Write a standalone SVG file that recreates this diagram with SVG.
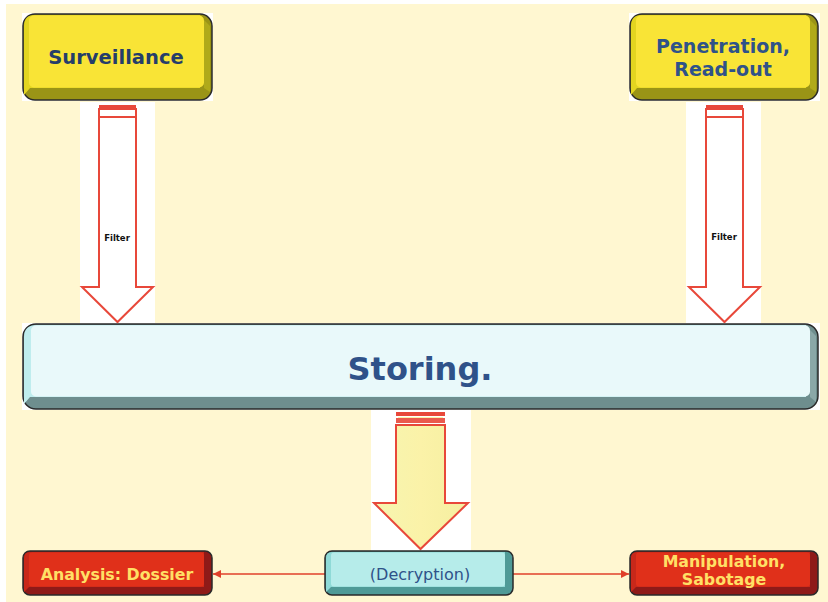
<svg xmlns="http://www.w3.org/2000/svg" width="828" height="602" viewBox="0 0 828 602">
<defs>
<style>
.t{font-family:"DejaVu Sans","Verdana",sans-serif;font-weight:bold;text-anchor:middle}
.edge{stroke:#E0402A;stroke-width:1.5;fill:none}
.arr{stroke:#E8483A;stroke-width:2;stroke-linejoin:miter}
.btn{stroke:#2a2a2a;stroke-width:1.5}
</style>
<marker id="ah" viewBox="0 0 10 10" refX="10" refY="5" markerWidth="8" markerHeight="8" markerUnits="userSpaceOnUse" orient="auto">
<path d="M0,0 L10,5 L0,10 z" fill="#E0402A"/>
</marker>
<linearGradient id="midg" x1="0" y1="0" x2="1" y2="0">
<stop offset="0" stop-color="#F6F5B0"/>
<stop offset="0.5" stop-color="#FBF2A8"/>
<stop offset="1" stop-color="#F5EFA0"/>
</linearGradient>
</defs>
<rect x="0" y="0" width="828" height="602" fill="#FFFFFF"/>
<rect x="6" y="4" width="822" height="598" fill="#FFF7D1"/>

<g id="connectors">
<line class="edge" x1="325" y1="574" x2="213" y2="574" marker-end="url(#ah)"/>
<line class="edge" x1="513" y1="574" x2="629" y2="574" marker-end="url(#ah)"/>
</g>

<g id="arrow-left">
<rect x="80" y="102" width="75" height="222" fill="#FFFFFF"/>
<rect x="99" y="105" width="37" height="4" fill="#E8483A"/>
<rect x="99" y="109" width="37" height="8" fill="none" stroke="#E8483A" stroke-width="2"/>
<path class="arr" d="M99,117 L99,287 L82,287 L117.5,322 L153,287 L136,287 L136,117 Z" fill="#FFFFFF"/>
<text class="t" x="117" y="241" font-size="8.5" fill="#111">Filter</text>
</g>

<g id="arrow-right">
<rect x="686" y="102" width="75" height="222" fill="#FFFFFF"/>
<rect x="706" y="105" width="37" height="4" fill="#E8483A"/>
<rect x="706" y="109" width="37" height="8" fill="none" stroke="#E8483A" stroke-width="2"/>
<path class="arr" d="M706,117 L706,287 L689,287 L724.5,322 L760,287 L743,287 L743,117 Z" fill="#FFFFFF"/>
<text class="t" x="724" y="240" font-size="8.5" fill="#111">Filter</text>
</g>

<g id="arrow-mid">
<rect x="371" y="410" width="100" height="141" fill="#FFFFFF"/>
<rect x="396" y="412" width="49" height="4" fill="#E8483A"/>
<rect x="396" y="418" width="49" height="5" fill="#E8483A" opacity="0.9"/>
<rect x="398" y="417" width="45" height="1" fill="#FBF2A8"/>
<path class="arr" d="M396,425 L396,503 L374,503 L420.5,549 L468,503 L445,503 L445,425 Z" fill="url(#midg)"/>
</g>

<g id="surveillance">
<rect x="22" y="13" width="191" height="88" fill="#FFFFFF"/>
<rect class="btn" x="23" y="14" width="189" height="86" rx="12" fill="#9A9416"/>
<path d="M24,26 Q24,15 35,15 L200,15 L200,88 L30,88 L24,95 Z" fill="#E3D520"/>
<rect x="29" y="15.5" width="175" height="72" rx="5" fill="#F9E436"/>
<path d="M204,20 L210,26 L210,92 L204,88 Z" fill="#B0AA1A"/>
<text class="t" x="116" y="64" font-size="19.5" fill="#253D6A">Surveillance</text>
</g>

<g id="penetration">
<rect x="629" y="13" width="191" height="88" fill="#FFFFFF"/>
<rect class="btn" x="630" y="14" width="188" height="86" rx="12" fill="#9A9416"/>
<path d="M631,26 Q631,15 642,15 L806,15 L806,88 L637,88 L631,95 Z" fill="#E3D520"/>
<rect x="636" y="15.5" width="174" height="72" rx="5" fill="#F9E436"/>
<path d="M810,20 L816,26 L816,92 L810,88 Z" fill="#B0AA1A"/>
<text class="t" x="723" y="53" font-size="19" fill="#2F5289">Penetration,</text>
<text class="t" x="723" y="76" font-size="19" fill="#2F5289">Read-out</text>
</g>

<g id="storing">
<rect x="22" y="323" width="798" height="87" fill="#FFFFFF"/>
<rect class="btn" x="23" y="324" width="795" height="85" rx="13" fill="#6E8E8E"/>
<path d="M24,337 Q24,325 37,325 L806,325 L806,397 L30,397 L24,404 Z" fill="#BFEDEE"/>
<rect x="31" y="325.5" width="779" height="71" rx="5" fill="#E9F9FA"/>
<path d="M810,330 L816,336 L816,402 L810,397 Z" fill="#8AA8A8"/>
<text class="t" x="420" y="380" font-size="32" fill="#2F5289">Storing.</text>
</g>

<g id="decryption">
<rect class="btn" x="325" y="551" width="188" height="44" rx="7" fill="#4F9A97"/>
<path d="M326,558 Q326,552 332,552 L505,552 L505,587 L331,587 L326,592 Z" fill="#8FDAD7"/>
<rect x="331" y="552.5" width="174" height="34" rx="3" fill="#B6ECEA"/>
<text x="420" y="580" font-family="DejaVu Sans, Verdana, sans-serif" font-size="16" text-anchor="middle" fill="#2F5289">(Decryption)</text>
</g>

<g id="analysis">
<rect class="btn" x="23" y="551" width="189" height="44" rx="7" fill="#8E1A18"/>
<path d="M24,558 Q24,552 30,552 L204,552 L204,587 L29,587 L24,592 Z" fill="#C8281A"/>
<rect x="29" y="552.5" width="175" height="34" rx="3" fill="#E0301A"/>
<text class="t" x="117" y="580" font-size="15.8" fill="#FFE066">Analysis: Dossier</text>
</g>

<g id="manipulation">
<rect class="btn" x="630" y="551" width="188" height="44" rx="7" fill="#8E1A18"/>
<path d="M631,558 Q631,552 637,552 L810,552 L810,587 L636,587 L631,592 Z" fill="#C8281A"/>
<rect x="636" y="552.5" width="174" height="34" rx="3" fill="#E0301A"/>
<text class="t" x="724" y="567" font-size="15.8" fill="#FFE066">Manipulation,</text>
<text class="t" x="724" y="585" font-size="15.8" fill="#FFE066">Sabotage</text>
</g>
</svg>
